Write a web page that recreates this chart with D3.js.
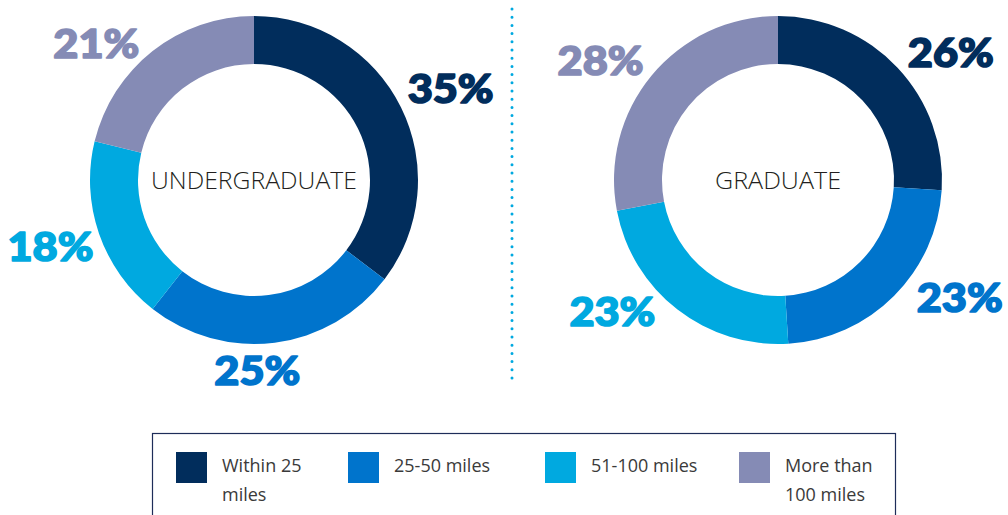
<!DOCTYPE html>
<html>
<head>
<meta charset="utf-8">
<script src="https://cdn.jsdelivr.net/npm/d3@7"></script>
<style>
  html, body { margin: 0; padding: 0; background: #fff; }
  svg { display: block; }
</style>
</head>
<body>
<svg id="chart" width="1008" height="515"></svg>
<script>
// Distance bands (legend order) and share of students in each band
const categories = ["Within 25 miles", "25-50 miles", "51-100 miles", "More than 100 miles"];
const legendLines = [["Within 25", "miles"], ["25-50 miles"], ["51-100 miles"], ["More than", "100 miles"]];
const undergraduate = [35, 25, 18, 21];
const graduate = [26, 23, 23, 28];
const chartTitles = ["UNDERGRADUATE", "GRADUATE"];

const colors = ["#012d5c", "#0074cc", "#00a9e0", "#858bb5"];

// Label placement around each ring: angle (deg clockwise from 12 o'clock) and distance from centre
const labelPlacement = [
  [{a: 65, r: 217}, {a: 179, r: 190}, {a: 252, r: 214}, {a: 311, r: 209}],
  [{a: 53.5, r: 215}, {a: 122.7, r: 216}, {a: 231.7, r: 211}, {a: 304, r: 214}]
];
const titleWidths = [206, 126];

const svg = d3.select("#chart");
const outerR = 164, innerR = 116;
const centres = [{x: 254, y: 180}, {x: 778, y: 180}];
const series = [undergraduate, graduate];

const pie = d3.pie().sort(null).value(d => d);
const arc = d3.arc().innerRadius(innerR).outerRadius(outerR);
const color = d3.scaleOrdinal().domain(categories).range(colors);

series.forEach((values, i) => {
  const g = svg.append("g").attr("transform", `translate(${centres[i].x},${centres[i].y})`);
  const slices = pie(values);

  g.selectAll("path")
    .data(slices)
    .join("path")
    .attr("d", arc)
    .attr("fill", (d, j) => color(categories[j]));

  g.selectAll("text.pct")
    .data(slices)
    .join("text")
    .attr("class", "pct")
    .attr("x", (d, j) => labelPlacement[i][j].r * Math.sin(labelPlacement[i][j].a * Math.PI / 180))
    .attr("y", (d, j) => -labelPlacement[i][j].r * Math.cos(labelPlacement[i][j].a * Math.PI / 180))
    .attr("text-anchor", "middle")
    .attr("dominant-baseline", "central")
    .attr("font-family", "Lato, 'Open Sans', sans-serif")
    .attr("font-weight", 900)
    .attr("font-size", 39)
    .attr("textLength", 86)
    .attr("lengthAdjust", "spacingAndGlyphs")
    .attr("fill", (d, j) => color(categories[j]))
    .attr("stroke", (d, j) => color(categories[j]))
    .attr("stroke-width", 1.6)
    .attr("stroke-linejoin", "round")
    .text(d => d.data + "%");

  g.append("text")
    .attr("x", 0)
    .attr("y", 9)
    .attr("text-anchor", "middle")
    .attr("font-family", "'Open Sans', sans-serif")
    .attr("font-weight", 300)
    .attr("font-size", 23)
    .attr("textLength", titleWidths[i])
    .attr("lengthAdjust", "spacingAndGlyphs")
    .attr("fill", "#231f20")
    .text(chartTitles[i]);
});

// Dotted divider between the two rings
svg.append("line")
  .attr("x1", 512).attr("x2", 512)
  .attr("y1", 9).attr("y2", 381)
  .attr("stroke", "#00a9e0")
  .attr("stroke-width", 3)
  .attr("stroke-linecap", "round")
  .attr("stroke-dasharray", "0 8.2");

// Legend box
svg.append("rect")
  .attr("x", 152.5).attr("y", 433.5)
  .attr("width", 743).attr("height", 100)
  .attr("fill", "none")
  .attr("stroke", "#1e2d59")
  .attr("stroke-width", 1.2);

const legendX = [176, 348, 545, 739];
const legend = svg.selectAll("g.legend")
  .data(categories)
  .join("g")
  .attr("class", "legend")
  .attr("transform", (d, i) => `translate(${legendX[i]},452)`);

legend.append("rect")
  .attr("width", 31).attr("height", 31)
  .attr("fill", d => color(d));

legend.append("text")
  .attr("font-family", "'Open Sans', sans-serif")
  .attr("font-size", 18)
  .attr("fill", "#3a3a3a")
  .selectAll("tspan")
  .data((d, i) => legendLines[i])
  .join("tspan")
  .attr("x", 46)
  .attr("y", (d, j) => 20 + j * 29)
  .text(d => d);
</script>
</body>
</html>
